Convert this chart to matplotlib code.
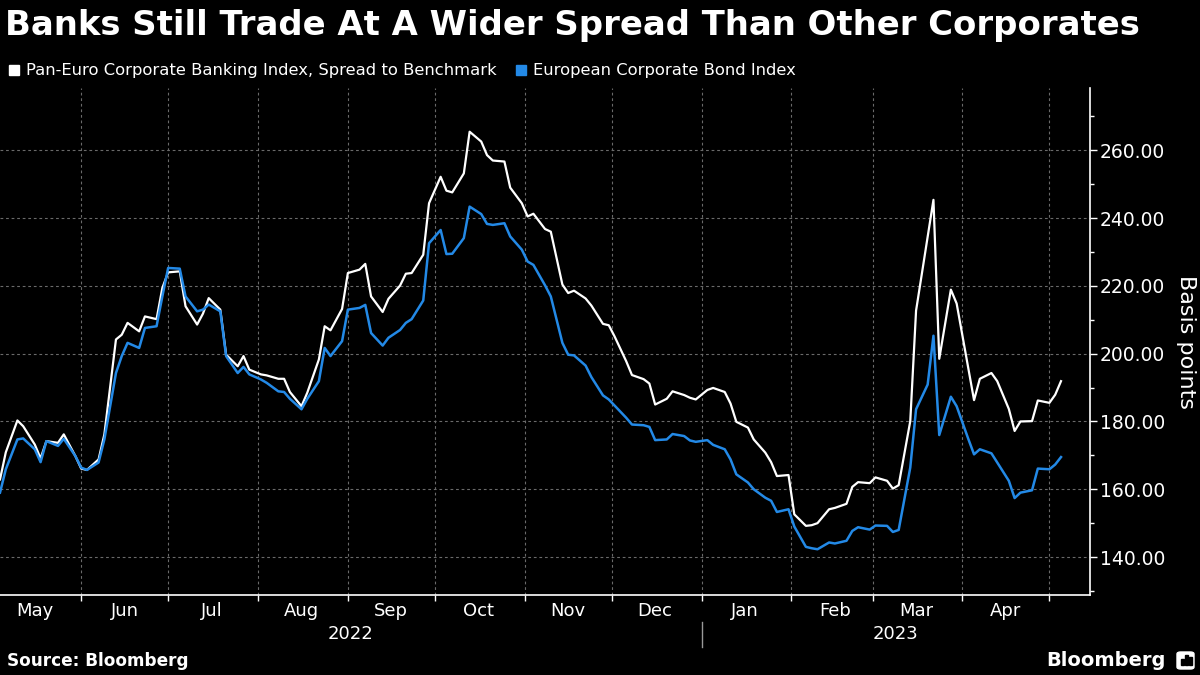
import matplotlib
matplotlib.use('Agg')
import matplotlib.pyplot as plt
from matplotlib.patches import Rectangle, FancyBboxPatch
from matplotlib.transforms import blended_transform_factory
import pandas as pd

# every second trading day, 4 May 2022 - 5 May 2023
dates = pd.bdate_range('2022-05-04', '2023-05-05')[::2]

banks = [162.9, 170.9, 180.3, 178.6, 173.2, 169.1, 174.2, 173.7, 176.2, 169.8,
         166.1, 165.7, 168.8, 176.2, 204.2, 205.6, 209.1, 206.6, 211.0, 210.2,
         219.4, 224.0, 224.3, 214.0, 208.6, 211.8, 216.4, 213.0, 199.7, 196.3,
         199.3, 195.3, 193.9, 193.6, 192.6, 192.6, 188.7, 184.5, 188.5, 198.3,
         208.1, 206.9, 213.2, 223.8, 224.8, 226.5, 216.9, 212.3, 216.2, 220.1,
         223.6, 223.8, 229.2, 244.4, 252.2, 248.1, 247.6, 253.2, 265.5, 262.6,
         258.6, 257.0, 256.7, 249.0, 244.4, 240.5, 241.3, 236.8, 236.0, 220.4,
         217.9, 218.6, 216.3, 214.2, 208.8, 208.4, 205.1, 197.8, 193.7, 192.5,
         191.2, 185.0, 186.7, 188.9, 187.8, 187.0, 186.5, 189.3, 189.9, 188.7,
         185.3, 179.9, 178.2, 174.7, 170.8, 168.0, 163.9, 164.2, 152.6, 149.2,
         149.4, 150.0, 154.1, 154.5, 155.7, 160.7, 162.1, 161.8, 163.5, 162.5,
         160.2, 161.2, 180.1, 212.7, 234.6, 245.4, 198.5, 218.9, 214.8, 195.8,
         186.3, 192.6, 194.3, 191.9, 183.7, 177.2, 180.0, 180.1, 186.2, 185.5,
         187.9, 191.9]

corp = [159.0, 165.9, 174.7, 175.0, 171.8, 168.0, 174.2, 172.8, 174.9, 169.8,
        166.4, 165.7, 167.9, 174.7, 194.3, 199.3, 203.2, 201.7, 207.6, 208.1,
        216.9, 225.3, 225.1, 216.9, 212.5, 213.0, 214.5, 212.5, 199.3, 194.3,
        196.1, 193.9, 192.4, 191.4, 188.9, 188.7, 186.7, 183.6, 186.7, 191.9,
        201.7, 199.3, 203.7, 213.0, 213.5, 214.4, 206.1, 202.4, 204.7, 207.0,
        209.1, 210.2, 215.7, 232.6, 236.5, 229.4, 229.5, 234.1, 243.4, 241.2,
        238.3, 238.0, 238.5, 234.6, 230.7, 227.2, 226.2, 220.2, 216.9, 203.2,
        199.7, 199.5, 196.5, 193.1, 187.7, 186.5, 184.7, 181.1, 179.1, 178.9,
        178.4, 174.5, 174.7, 176.3, 175.7, 174.4, 174.0, 174.5, 173.1, 171.8,
        168.8, 164.4, 162.0, 160.0, 157.5, 156.6, 153.3, 154.1, 149.0, 143.0,
        142.6, 142.3, 144.3, 144.0, 144.8, 147.7, 148.8, 148.1, 149.3, 149.2,
        147.4, 148.0, 166.4, 183.6, 190.9, 205.3, 176.0, 187.3, 184.5, 174.9,
        170.3, 171.8, 170.6, 167.9, 162.5, 157.4, 159.0, 159.7, 166.1, 165.9,
        167.3, 169.5]

month_labels = ['May', 'Jun', 'Jul', 'Aug', 'Sep', 'Oct', 'Nov', 'Dec',
                'Jan', 'Feb', 'Mar', 'Apr']
years = ['2022', '2023']
yticks = [140, 160, 180, 200, 220, 240, 260]

WHITE = '#ffffff'
BLUE = '#2389e6'
GRID = '#6a6a6a'

fig = plt.figure(figsize=(12, 6.75), dpi=100, facecolor='black')
ax = fig.add_axes([0, 80 / 675, 1090 / 1200, 507 / 675])
ax.set_facecolor('black')

ax.plot(dates, banks, color=WHITE, lw=1.6, zorder=3)
ax.plot(dates, corp, color=BLUE, lw=1.8, zorder=4)

x0, x1 = pd.Timestamp('2022-05-04'), pd.Timestamp('2023-05-15')
ax.set_xlim(x0, x1)
ax.set_ylim(128.8, 278.4)

# y axis on the right
ax.yaxis.tick_right()
ax.yaxis.set_label_position('right')
ax.set_yticks(yticks)
ax.set_yticklabels(['%.2f' % v for v in yticks])
ax.set_yticks(range(130, 280, 20), minor=True)
ax.tick_params(axis='y', which='major', colors=WHITE, labelsize=13.5,
               length=5, width=1, pad=2)
ax.tick_params(axis='y', which='minor', colors=WHITE, length=3, width=1)
ax.set_ylabel('Basis points', color=WHITE, fontsize=16, rotation=270,
              labelpad=22)

# x axis: ticks at month starts, labels mid-month
month_starts = pd.date_range('2022-06-01', '2023-05-01', freq='MS')
mids = pd.date_range('2022-05-01', '2023-04-01', freq='MS') + pd.Timedelta(days=15)
ax.set_xticks(month_starts)
ax.set_xticklabels([])
ax.set_xticks(mids, minor=True)
ax.set_xticklabels(month_labels, minor=True)
ax.tick_params(axis='x', which='major', colors=WHITE, length=4, width=1)
ax.tick_params(axis='x', which='minor', colors=WHITE, length=0, pad=5,
               labelsize=13)

for s in ['top', 'left']:
    ax.spines[s].set_visible(False)
for s in ['right', 'bottom']:
    ax.spines[s].set_color(WHITE)
    ax.spines[s].set_linewidth(1.2)

ax.grid(True, which='major', color=GRID, lw=0.8, ls=(0, (2.5, 2.5)))
ax.set_axisbelow(True)

# year labels + separator
jan1 = pd.Timestamp('2023-01-01')
trans = blended_transform_factory(ax.transData, ax.transAxes)
centers = [x0 + (jan1 - x0) / 2, jan1 + (x1 - jan1) / 2]
for yr, c in zip(years, centers):
    ax.text(c, -0.077, yr, transform=trans, color=WHITE, fontsize=13,
            ha='center', va='center')
ax.plot([jan1, jan1], [-0.053, -0.103], transform=trans, color='#999999',
        lw=1, clip_on=False)

# title, legend
fig.text(5 / 1200, 1 - 26 / 675, 'Banks Still Trade At A Wider Spread Than Other Corporates',
         color=WHITE, fontsize=24.4, fontweight='bold', va='center', ha='left')

fig.patches.append(Rectangle((9 / 1200, 1 - 75 / 675), 10 / 1200, 10 / 675,
                             transform=fig.transFigure, color=WHITE))
fig.text(26 / 1200, 1 - 70 / 675, 'Pan-Euro Corporate Banking Index, Spread to Benchmark',
         color=WHITE, fontsize=11.8, va='center', ha='left')
fig.patches.append(Rectangle((516 / 1200, 1 - 75 / 675), 10 / 1200, 10 / 675,
                             transform=fig.transFigure, color=BLUE))
fig.text(533 / 1200, 1 - 70 / 675, 'European Corporate Bond Index',
         color=WHITE, fontsize=11.8, va='center', ha='left')

# footer
fig.text(7 / 1200, 1 - 661 / 675, 'Source: Bloomberg', color=WHITE,
         fontsize=12.2, fontweight='bold', va='center', ha='left')
fig.text(1166 / 1200, 1 - 660 / 675, 'Bloomberg', color=WHITE, fontsize=14,
         fontweight='bold', va='center', ha='right')
fig.patches.append(FancyBboxPatch((1177 / 1200, 1 - 669 / 675), 17 / 1200, 17 / 675,
                                  boxstyle='round,pad=0,rounding_size=0.003',
                                  transform=fig.transFigure, color=WHITE))
for bx, bh in [(1181, 6), (1185, 10), (1189, 8)]:
    fig.patches.append(Rectangle((bx / 1200, 1 - 665 / 675), 2.5 / 1200, bh / 675,
                                 transform=fig.transFigure, color='black'))

fig.savefig('out.png', dpi=100, facecolor='black')
